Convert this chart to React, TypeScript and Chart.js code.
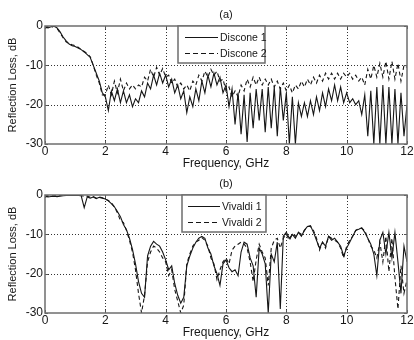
import React, { useEffect, useRef } from "react";
import { Chart, registerables } from "chart.js";
Chart.register(...registerables);

const freqGHz = [
  0.0, 0.1, 0.2, 0.3, 0.4, 0.5, 0.6, 0.7, 0.8, 0.9,
  1.0, 1.1, 1.2, 1.3, 1.4, 1.5, 1.6, 1.7, 1.8, 1.9,
  2.0, 2.1, 2.2, 2.3, 2.4, 2.5, 2.6, 2.7, 2.8, 2.9,
  3.0, 3.1, 3.2, 3.3, 3.4, 3.5, 3.6, 3.7, 3.8, 3.9,
  4.0, 4.1, 4.2, 4.3, 4.4, 4.5, 4.6, 4.7, 4.8, 4.9,
  5.0, 5.1, 5.2, 5.3, 5.4, 5.5, 5.6, 5.7, 5.8, 5.9,
  6.0, 6.1, 6.2, 6.3, 6.4, 6.5, 6.6, 6.7, 6.8, 6.9,
  7.0, 7.1, 7.2, 7.3, 7.4, 7.5, 7.6, 7.7, 7.8, 7.9,
  8.0, 8.1, 8.2, 8.3, 8.4, 8.5, 8.6, 8.7, 8.8, 8.9,
  9.0, 9.1, 9.2, 9.3, 9.4, 9.5, 9.6, 9.7, 9.8, 9.9,
  10.0, 10.1, 10.2, 10.3, 10.4, 10.5, 10.6, 10.7, 10.8, 10.9,
  11.0, 11.1, 11.2, 11.3, 11.4, 11.5, 11.6, 11.7, 11.8, 11.9,
  12.0,
];

const discone1 = [
  -0.3, -0.5, -0.2, 0.0, -0.5, -1.5, -2.8, -3.8, -4.6, -5.0,
  -5.2, -5.6, -6.0, -6.6, -7.3, -8.0, -10.0, -12.0, -14.0, -17.0,
  -18.0, -21.5, -16.5, -19.0, -16.0, -19.5, -16.5, -19.5, -17.5, -20.5,
  -18.5, -19.5, -16.5, -18.0, -14.5, -16.0, -12.5, -15.0, -12.0, -14.5,
  -12.5, -15.5, -13.5, -17.0, -15.0, -18.5, -16.5, -22.0, -18.0, -20.5,
  -16.0, -19.0, -14.0, -17.0, -12.5, -15.5, -12.0, -15.0, -13.0, -17.0,
  -15.0, -20.5, -16.0, -25.0, -17.0, -27.5, -17.5, -29.5, -17.0, -26.0,
  -16.0, -24.0, -16.0, -27.0, -15.5, -26.0, -15.5, -28.0, -15.5, -24.0,
  -17.0, -30.0, -18.0, -30.0, -19.5, -23.0, -19.5, -23.0, -19.0, -22.5,
  -18.0, -21.5, -17.0, -20.5, -16.0, -19.0, -15.0, -19.0, -15.5, -19.5,
  -17.0, -19.5, -18.5, -20.0, -19.0, -22.5, -17.5, -28.0, -16.5, -30.0,
  -15.5, -30.0, -15.0, -30.0, -15.5, -30.0, -16.0, -30.0, -17.0, -28.0,
  -20.0,
];

const discone2 = [
  -0.5, -0.3, -0.4, 0.0, -0.6, -1.8, -3.0, -4.0, -4.5, -4.8,
  -5.0, -5.4, -6.0, -6.5, -7.0, -7.8, -10.0, -12.5, -14.5, -17.5,
  -17.5, -15.0, -17.5, -14.0, -17.0, -13.5, -16.5, -14.5, -16.0, -15.0,
  -16.0, -15.0, -15.5, -13.0, -14.0, -11.0, -13.0, -10.5, -12.5, -10.8,
  -13.0, -12.5, -14.5, -13.5, -15.5, -14.5, -16.0, -15.0, -16.5, -14.0,
  -15.0, -12.5, -14.0, -11.5, -13.0, -11.0, -12.5, -11.5, -14.0, -13.5,
  -16.5, -15.5, -18.0, -16.5, -18.0, -15.0, -16.5, -13.5, -15.5, -13.0,
  -15.0, -13.0, -15.0, -13.5, -15.0, -13.5, -15.5, -14.0, -16.0, -14.5,
  -16.5, -15.0, -17.0, -15.0, -16.0, -14.0, -15.5, -13.5, -15.0, -13.0,
  -14.5, -12.5, -14.0, -12.0, -13.5, -12.0, -13.5, -12.0, -13.5, -12.0,
  -13.0, -12.0, -13.5, -12.5, -14.0, -13.0, -15.0, -11.0, -13.5, -10.0,
  -13.0, -9.5, -13.0, -9.0, -13.5, -9.0, -13.5, -9.5, -14.0, -10.0,
  -10.5,
];

const vivaldi1 = [
  -0.3, -0.5, -0.4, -0.3, -0.4, -0.3, -0.2, -0.1, -0.1, -0.1,
  -0.1, -0.1, -0.2, -3.2, -0.5, -0.8, -0.5, -0.9, -0.6, -0.8,
  -1.0, -1.5, -2.2, -3.0, -4.2, -5.5, -7.5, -8.8, -11.0, -13.8,
  -17.5, -22.0, -25.0, -26.0, -15.5, -13.0, -11.8, -12.5, -13.0, -14.5,
  -16.5, -19.0, -18.0, -22.5, -25.5, -27.5, -26.0, -18.0, -15.5, -13.5,
  -12.0, -11.0, -10.5, -11.0, -13.5, -15.0, -18.0, -20.0, -23.0, -17.5,
  -16.5, -18.5, -19.5, -19.0, -20.5, -14.5, -12.0, -12.5, -16.0, -18.0,
  -26.0, -13.5, -15.0, -17.5, -30.0, -15.0, -17.0, -12.0, -29.0, -10.5,
  -9.5, -11.0, -10.0, -11.0, -9.5, -10.5, -9.0, -8.0, -7.8, -9.5,
  -11.5, -13.5, -12.0, -13.0, -10.5, -11.5, -11.0, -12.0, -13.0, -15.5,
  -13.5, -12.0, -10.5, -9.0, -8.7, -8.3, -9.5, -11.0, -12.5, -15.0,
  -20.5, -11.5, -9.5, -15.0, -9.5, -16.0, -9.5, -17.0, -25.0, -13.0,
  -17.0,
];

const vivaldi2 = [
  -0.5, -0.3, -0.2, -0.2, -0.1, -0.1, 0.0, 0.0, 0.0, 0.0,
  0.0, -0.1, -0.1, -0.4, -0.3, -0.6, -0.4, -0.8, -0.5, -0.7,
  -1.0, -1.4, -2.0, -3.0, -4.5, -6.5, -7.0, -9.0, -11.5, -14.5,
  -19.0, -25.0, -30.0, -25.5, -17.0, -14.5, -13.0, -13.5, -14.5, -16.0,
  -17.0, -20.5, -19.0, -24.0, -27.0, -30.0, -28.0, -17.5, -15.0, -13.0,
  -12.0, -11.5, -10.8, -11.5, -13.0, -16.0, -17.5, -21.5, -19.0, -17.0,
  -16.0, -17.5, -14.0, -13.0, -12.5, -12.0, -12.5, -13.5, -17.0, -22.0,
  -16.5, -12.5, -14.5, -16.0, -23.0, -13.5, -11.5, -11.0, -13.5, -11.0,
  -10.0, -11.5, -10.0, -10.5, -9.5, -10.0, -9.0, -8.0, -8.0, -9.0,
  -11.0, -14.0, -12.0, -13.5, -10.5, -11.0, -11.5, -12.0, -13.5, -16.0,
  -13.0, -11.5, -10.5, -9.0, -8.5, -8.5, -9.0, -11.0, -13.0, -14.0,
  -16.0, -12.0, -17.0, -10.5, -19.5, -11.0, -21.0, -29.0, -18.0, -25.0,
  -21.5,
];

const xTicks = [0, 2, 4, 6, 8, 10, 12];
const yTicks = [-30, -20, -10, 0];

const FONT = "'Liberation Sans', Arial, sans-serif";
const INK = "#161616";

type PanelSpec = {
  title: string;
  labels: [string, string];
  s1: number[];
  s2: number[];
  legendLeft: number;
  legendRight: number;
  sampleLeft: number;
  sampleRight: number;
};

function makeDecor(spec: PanelSpec) {
  return {
    id: "decor",
    beforeDatasetsDraw(chart: any) {
      const { ctx, chartArea: a, scales } = chart;
      ctx.save();
      ctx.strokeStyle = "#333";
      ctx.lineWidth = 1;
      ctx.setLineDash([1, 2]);
      xTicks.slice(1, -1).forEach((v) => {
        const px = Math.round(scales.x.getPixelForValue(v)) + 0.5;
        ctx.beginPath();
        ctx.moveTo(px, a.top);
        ctx.lineTo(px, a.bottom);
        ctx.stroke();
      });
      yTicks.slice(1, -1).forEach((v) => {
        const py = Math.round(scales.y.getPixelForValue(v)) + 0.5;
        ctx.beginPath();
        ctx.moveTo(a.left, py);
        ctx.lineTo(a.right, py);
        ctx.stroke();
      });
      ctx.restore();
    },
    afterDatasetsDraw(chart: any) {
      const { ctx, chartArea: a, scales } = chart;
      ctx.save();
      ctx.strokeStyle = "#555";
      ctx.lineWidth = 1;
      xTicks.forEach((v) => {
        const px = Math.round(scales.x.getPixelForValue(v)) + 0.5;
        ctx.beginPath();
        ctx.moveTo(px, a.bottom);
        ctx.lineTo(px, a.bottom - 3);
        ctx.moveTo(px, a.top);
        ctx.lineTo(px, a.top + 3);
        ctx.stroke();
      });
      yTicks.forEach((v) => {
        const py = Math.round(scales.y.getPixelForValue(v)) + 0.5;
        ctx.beginPath();
        ctx.moveTo(a.left, py);
        ctx.lineTo(a.left + 3, py);
        ctx.moveTo(a.right, py);
        ctx.lineTo(a.right - 3, py);
        ctx.stroke();
      });
      ctx.strokeStyle = "#6e6e6e";
      ctx.lineWidth = 1.5;
      ctx.strokeRect(a.left, a.top, a.right - a.left, a.bottom - a.top);

      const lt = a.top;
      const lb = a.top + 37;
      ctx.fillStyle = "#fff";
      ctx.fillRect(spec.legendLeft, lt, spec.legendRight - spec.legendLeft, lb - lt);
      ctx.strokeStyle = "#6e6e6e";
      ctx.lineWidth = 1.5;
      ctx.strokeRect(spec.legendLeft, lt, spec.legendRight - spec.legendLeft, lb - lt);
      const r1 = lt + 11;
      const r2 = lt + 27;
      ctx.strokeStyle = INK;
      ctx.lineWidth = 1;
      ctx.beginPath();
      ctx.moveTo(spec.sampleLeft, r1 + 0.5);
      ctx.lineTo(spec.sampleRight, r1 + 0.5);
      ctx.stroke();
      ctx.setLineDash([5, 3]);
      ctx.beginPath();
      ctx.moveTo(spec.sampleLeft, r2 + 0.5);
      ctx.lineTo(spec.sampleRight, r2 + 0.5);
      ctx.stroke();
      ctx.setLineDash([]);
      ctx.fillStyle = INK;
      ctx.font = `10.5px ${FONT}`;
      ctx.textAlign = "left";
      ctx.textBaseline = "middle";
      ctx.fillText(spec.labels[0], spec.sampleRight + 2, r1 + 1);
      ctx.fillText(spec.labels[1], spec.sampleRight + 2, r2 + 1);

      const cx = (a.left + a.right) / 2;
      ctx.font = `11px ${FONT}`;
      ctx.textAlign = "center";
      ctx.fillText(spec.title, cx, 15);
      ctx.font = `12px ${FONT}`;
      ctx.fillText("Frequency, GHz", cx, 164);
      ctx.save();
      ctx.translate(13, (a.top + a.bottom) / 2);
      ctx.rotate(-Math.PI / 2);
      ctx.font = `11px ${FONT}`;
      ctx.fillText("Reflection Loss, dB", 0, 0);
      ctx.restore();
      ctx.restore();
    },
  };
}

function Panel({ spec, top }: { spec: PanelSpec; top: number }) {
  const ref = useRef<HTMLCanvasElement | null>(null);
  useEffect(() => {
    if (!ref.current) return;
    const toPts = (arr: number[]) => freqGHz.map((f, i) => ({ x: f, y: arr[i] }));
    const chart = new Chart(ref.current, {
      type: "line",
      data: {
        datasets: [
          {
            label: spec.labels[1],
            data: toPts(spec.s2),
            borderColor: INK,
            borderWidth: 1.1,
            borderDash: [4, 3],
            pointRadius: 0,
            tension: 0,
          },
          {
            label: spec.labels[0],
            data: toPts(spec.s1),
            borderColor: INK,
            borderWidth: 1.1,
            pointRadius: 0,
            tension: 0,
          },
        ],
      },
      options: {
        responsive: false,
        maintainAspectRatio: false,
        animation: false,
        events: [],
        layout: { padding: { top: 26, right: 7, left: 0, bottom: 0 } },
        plugins: { legend: { display: false }, tooltip: { enabled: false }, title: { display: false } },
        scales: {
          x: {
            type: "linear",
            min: 0,
            max: 12,
            afterBuildTicks: (s: any) => {
              s.ticks = xTicks.map((v) => ({ value: v }));
            },
            ticks: { font: { size: 12, family: FONT }, color: INK, padding: 0, maxRotation: 0, autoSkip: false },
            grid: { display: false, drawTicks: false },
            border: { display: false },
            afterFit: (s: any) => {
              s.height = 27;
            },
          },
          y: {
            type: "linear",
            min: -30,
            max: 0,
            afterBuildTicks: (s: any) => {
              s.ticks = yTicks.map((v) => ({ value: v }));
            },
            ticks: { font: { size: 12, family: FONT }, color: INK, padding: 2 },
            grid: { display: false, drawTicks: false },
            border: { display: false },
            afterFit: (s: any) => {
              s.width = 45;
            },
          },
        },
      },
      plugins: [makeDecor(spec)],
    } as any);
    return () => chart.destroy();
  }, []);
  return (
    <canvas
      ref={ref}
      width={414}
      height={171}
      style={{ position: "absolute", left: 0, top, width: 414, height: 171 }}
    />
  );
}

const panelA: PanelSpec = {
  title: "(a)",
  labels: ["Discone 1", "Discone 2"],
  s1: discone1,
  s2: discone2,
  legendLeft: 178,
  legendRight: 265,
  sampleLeft: 185,
  sampleRight: 218,
};

const panelB: PanelSpec = {
  title: "(b)",
  labels: ["Vivaldi 1", "Vivaldi 2"],
  s1: vivaldi1,
  s2: vivaldi2,
  legendLeft: 182,
  legendRight: 266,
  sampleLeft: 188,
  sampleRight: 220,
};

export default function App() {
  return (
    <div style={{ position: "absolute", left: 0, top: 0, width: 414, height: 340, background: "#fff", overflow: "hidden" }}>
      <Panel spec={panelA} top={0} />
      <Panel spec={panelB} top={169} />
    </div>
  );
}
